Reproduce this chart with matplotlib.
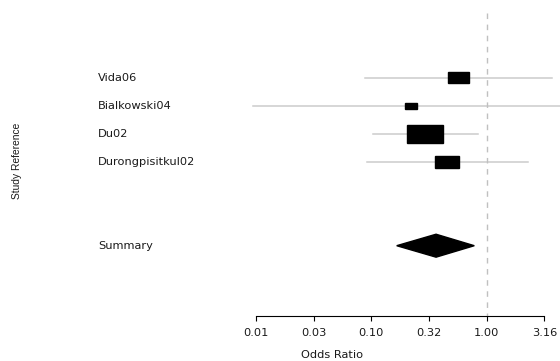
import numpy as np
import matplotlib
matplotlib.use("Agg")
from matplotlib import pyplot as plt
from matplotlib import font_manager as fm

studies = ["Vida06", "Bialkowski04", "Du02", "Durongpisitkul02"]
odds = [0.567, 0.221, 0.294, 0.455]
ci_low = [0.088, 0.0095, 0.104, 0.091]
ci_high = [3.66, 5.5, 0.836, 2.28]
weights = [0.38, 0.21, 0.64, 0.42]

summary_label = "Summary"
summary_or = 0.364
summary_low = 0.166
summary_high = 0.781

ticks = [0.01, 10 ** -1.5, 0.1, 10 ** -0.5, 1.0, 10 ** 0.5]
tick_labels = ["0.01", "0.03", "0.10", "0.32", "1.00", "3.16"]

names = {f.name for f in fm.fontManager.ttflist}
narrow = "Liberation Sans Narrow" if "Liberation Sans Narrow" in names else "Liberation Sans"
plt.rcParams["font.family"] = ["DejaVu Sans"]
txt_size = 8.2
txt_color = "#1a1a1a"

W, H = 560, 361
fig = plt.figure(figsize=(W / 100, H / 100), dpi=100)
ax = fig.add_axes([0, (H - 316) / H, 1, 316 / H])
ax.set_xscale("log")
ax.set_xlim(10 ** (-486.7 / 115.4), 10 ** ((W - 486.7) / 115.4))
ax.set_ylim(1 + (316 - 77.7) / 28, 1 - 77.7 / 28)

for s in ["top", "left", "right"]:
    ax.spines[s].set_visible(False)
ax.spines["bottom"].set_bounds(ticks[0], ticks[-1])
ax.spines["bottom"].set_linewidth(0.8)
ax.set_yticks([])
ax.set_xticks(ticks)
ax.set_xticklabels(tick_labels, fontsize=txt_size, color=txt_color)
ax.minorticks_off()
ax.tick_params(axis="x", direction="out", length=3.3, width=0.8, pad=5.5)

# reference line at OR = 1
ax.vlines(1.0, 1 - (77.7 - 13) / 28, ax.get_ylim()[0], colors="#c0c0c0",
          linestyles=(0, (4, 4)), linewidth=1.0, clip_on=False)

rows = np.arange(1, len(studies) + 1)
lab_tr = ax.get_yaxis_transform()
for y, name, o, lo, hi, w in zip(rows, studies, odds, ci_low, ci_high, weights):
    ax.plot([lo, hi], [y, y], color="#cccccc", linewidth=1.1, zorder=1)
    half = 0.49 * w / 2
    x0, x1 = o * 10 ** -half, o * 10 ** half
    ax.fill([x0, x1, x1, x0], [y - w / 2, y - w / 2, y + w / 2, y + w / 2],
            color="black", zorder=2)
    ax.text(0.175, y, name, transform=lab_tr, fontsize=txt_size,
            color=txt_color, va="center", ha="left")

ys = 7
ax.fill([summary_low, summary_or, summary_high, summary_or],
        [ys, ys - 0.41, ys, ys + 0.41], color="black", zorder=2)
ax.text(0.175, ys, summary_label, transform=lab_tr, fontsize=txt_size,
        color=txt_color, va="center", ha="left")

fig.text(332 / W, 1 - 355 / H, "Odds Ratio", fontsize=txt_size, color=txt_color,
         ha="center", va="center")
fig.text(17 / W, 1 - 161 / H, "Study Reference", fontsize=7.4, rotation=90,
         color=txt_color, ha="center", va="center", family=narrow)

fig.savefig("out.png", dpi=100)
